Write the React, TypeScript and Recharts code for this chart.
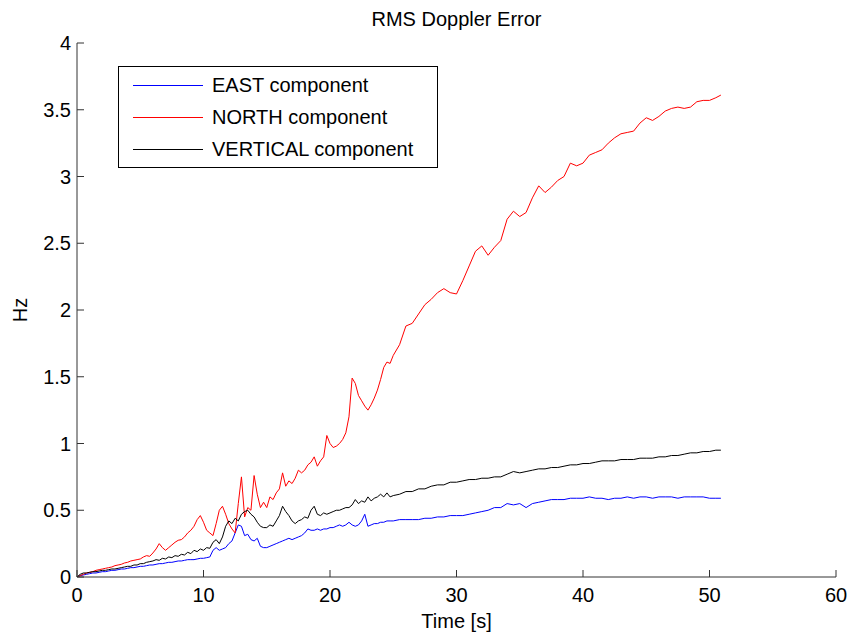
import { LineChart, Line, XAxis, YAxis, Legend } from "recharts"

// time axis [s]: 0.25 s steps to 25 s, then 0.5 s steps
const TIME = [
  0, 0.25, 0.5, 0.75, 1, 1.25, 1.5, 1.75, 2, 2.25, 2.5, 2.75, 3, 3.25, 3.5, 3.75,
  4, 4.25, 4.5, 4.75, 5, 5.25, 5.5, 5.75, 6, 6.25, 6.5, 6.75, 7, 7.25, 7.5, 7.75,
  8, 8.25, 8.5, 8.75, 9, 9.25, 9.5, 9.75, 10, 10.25, 10.5, 10.75, 11, 11.25, 11.5, 11.75,
  12, 12.25, 12.5, 12.75, 13, 13.25, 13.5, 13.75, 14, 14.25, 14.5, 14.75, 15, 15.25, 15.5, 15.75,
  16, 16.25, 16.5, 16.75, 17, 17.25, 17.5, 17.75, 18, 18.25, 18.5, 18.75, 19, 19.25, 19.5, 19.75,
  20, 20.25, 20.5, 20.75, 21, 21.25, 21.5, 21.75, 22, 22.25, 22.5, 22.75, 23, 23.25, 23.5, 23.75,
  24, 24.25, 24.5, 24.75, 25,
  25.5, 26, 26.5, 27, 27.5, 28, 28.5, 29, 29.5, 30,
  30.5, 31, 31.5, 32, 32.5, 33, 33.5, 34, 34.5, 35,
  35.5, 36, 36.5, 37, 37.5, 38, 38.5, 39, 39.5, 40,
  40.5, 41, 41.5, 42, 42.5, 43, 43.5, 44, 44.5, 45,
  45.5, 46, 46.5, 47, 47.5, 48, 48.5, 49, 49.5, 50,
  50.5, 50.9,
]

const EAST = [
  0, 0.01, 0.015, 0.02, 0.025, 0.03, 0.03, 0.035, 0.04, 0.04, 0.045, 0.05, 0.05, 0.055, 0.06, 0.06,
  0.065, 0.07, 0.07, 0.075, 0.08, 0.08, 0.085, 0.09, 0.09, 0.095, 0.1, 0.1, 0.105, 0.11, 0.11, 0.115,
  0.12, 0.12, 0.125, 0.13, 0.13, 0.13, 0.135, 0.14, 0.14, 0.145, 0.15, 0.2, 0.22, 0.2, 0.21, 0.22,
  0.25, 0.27, 0.33, 0.39, 0.38, 0.31, 0.32, 0.28, 0.27, 0.29, 0.23, 0.22, 0.22, 0.23, 0.24, 0.25,
  0.26, 0.27, 0.28, 0.29, 0.28, 0.29, 0.3, 0.31, 0.33, 0.36, 0.35, 0.35, 0.36, 0.35, 0.36, 0.36,
  0.37, 0.37, 0.38, 0.39, 0.38, 0.39, 0.41, 0.39, 0.38, 0.39, 0.42, 0.47, 0.38, 0.39, 0.4, 0.4,
  0.41, 0.41, 0.42, 0.42, 0.42,
  0.43, 0.43, 0.43, 0.43, 0.44, 0.44, 0.45, 0.45, 0.46, 0.46,
  0.46, 0.47, 0.48, 0.49, 0.5, 0.52, 0.52, 0.55, 0.54, 0.55,
  0.52, 0.55, 0.56, 0.57, 0.58, 0.58, 0.58, 0.59, 0.59, 0.59,
  0.6, 0.59, 0.59, 0.58, 0.59, 0.59, 0.6, 0.59, 0.6, 0.6,
  0.59, 0.6, 0.6, 0.6, 0.59, 0.6, 0.6, 0.6, 0.6, 0.59,
  0.59, 0.59,
]

const NORTH = [
  0, 0.01, 0.02, 0.03, 0.035, 0.04, 0.05, 0.055, 0.06, 0.065, 0.07, 0.075, 0.085, 0.09, 0.095, 0.105,
  0.11, 0.12, 0.125, 0.13, 0.135, 0.15, 0.16, 0.155, 0.18, 0.21, 0.25, 0.22, 0.2, 0.22, 0.24, 0.26,
  0.275, 0.28, 0.3, 0.33, 0.35, 0.38, 0.43, 0.46, 0.41, 0.35, 0.33, 0.31, 0.4, 0.5, 0.53, 0.47,
  0.4, 0.36, 0.33, 0.55, 0.75, 0.45, 0.52, 0.5, 0.76, 0.62, 0.52, 0.56, 0.52, 0.6, 0.58, 0.63,
  0.66, 0.78, 0.68, 0.72, 0.7, 0.74, 0.8, 0.78, 0.8, 0.84, 0.86, 0.9, 0.83, 0.87, 0.9, 1.06,
  1.0, 0.97, 0.98, 1.0, 1.03, 1.08, 1.2, 1.49, 1.45, 1.36, 1.32, 1.28, 1.25, 1.29, 1.34, 1.4,
  1.48, 1.57, 1.61, 1.6, 1.66,
  1.74, 1.88, 1.9, 1.97, 2.04, 2.08, 2.13, 2.16, 2.13, 2.12,
  2.22, 2.33, 2.44, 2.48, 2.41, 2.47, 2.52, 2.68, 2.74, 2.7,
  2.73, 2.84, 2.93, 2.88, 2.92, 2.97, 3.0, 3.1, 3.08, 3.1,
  3.16, 3.18, 3.2, 3.25, 3.29, 3.32, 3.33, 3.34, 3.4, 3.44,
  3.42, 3.45, 3.49, 3.51, 3.52, 3.51, 3.52, 3.56, 3.57, 3.57,
  3.59, 3.61,
]

const VERTICAL = [
  0, 0.02, 0.03, 0.03, 0.035, 0.04, 0.04, 0.045, 0.05, 0.05, 0.055, 0.06, 0.06, 0.065, 0.07, 0.075,
  0.08, 0.08, 0.09, 0.09, 0.1, 0.1, 0.11, 0.115, 0.12, 0.13, 0.125, 0.14, 0.135, 0.15, 0.145, 0.16,
  0.155, 0.17, 0.165, 0.185, 0.175, 0.2, 0.19, 0.21, 0.2, 0.22, 0.215, 0.26, 0.28, 0.25, 0.3, 0.38,
  0.42, 0.4, 0.44, 0.42, 0.47, 0.49, 0.5, 0.47, 0.45, 0.41, 0.38, 0.37, 0.37, 0.39, 0.38, 0.42,
  0.46, 0.53, 0.49, 0.46, 0.42, 0.4, 0.42, 0.43, 0.45, 0.44, 0.5, 0.53, 0.47, 0.46, 0.48, 0.47,
  0.48, 0.49, 0.5, 0.5, 0.51, 0.52, 0.52, 0.54, 0.58, 0.55, 0.57, 0.56, 0.6, 0.57, 0.59, 0.6,
  0.62, 0.6, 0.63, 0.6, 0.61,
  0.62, 0.64, 0.64, 0.66, 0.66, 0.68, 0.69, 0.69, 0.71, 0.71,
  0.72, 0.73, 0.73, 0.74, 0.74, 0.75, 0.75, 0.77, 0.79, 0.78,
  0.79, 0.8, 0.81, 0.81, 0.82, 0.82, 0.83, 0.84, 0.84, 0.85,
  0.85, 0.86, 0.87, 0.87, 0.87, 0.88, 0.88, 0.88, 0.89, 0.89,
  0.89, 0.9, 0.9, 0.91, 0.91, 0.92, 0.93, 0.93, 0.94, 0.94,
  0.95, 0.95,
]

const X_TICKS = [0, 10, 20, 30, 40, 50, 60]
const Y_TICKS = [0, 0.5, 1, 1.5, 2, 2.5, 3, 3.5, 4]

// the vertical series is plotted on the top/right axes (same domains) so those frame axes are in use
const SERIES = [
  { key: "east", name: "EAST component", color: "#0000ff", xId: "bottom", yId: "left" },
  { key: "north", name: "NORTH component", color: "#ff0000", xId: "bottom", yId: "left" },
  { key: "vertical", name: "VERTICAL component", color: "#000000", xId: "top", yId: "right" },
]

const data = TIME.map((t, i) => ({
  t,
  east: EAST[i],
  north: NORTH[i],
  vertical: VERTICAL[i],
}))

const FRAME = "#333333"
const FONT = '"Liberation Sans", Arial, Helvetica, sans-serif'
const TICK_LEN = 7

// matlab-style ticks: short mark pointing into the plot, label outside
function BottomTick(props: any) {
  const { x, y, payload } = props
  return (
    <g>
      <line x1={x} x2={x} y1={y} y2={y - TICK_LEN} stroke={FRAME} />
      <text x={x} y={y + 11} dy="0.71em" textAnchor="middle" fill="#000" fontSize={20}>
        {payload.value}
      </text>
    </g>
  )
}

function TopTick(props: any) {
  const { x, y } = props
  return <line x1={x} x2={x} y1={y} y2={y + TICK_LEN} stroke={FRAME} />
}

function LeftTick(props: any) {
  const { x, y, payload } = props
  return (
    <g>
      <line x1={x} x2={x + TICK_LEN} y1={y} y2={y} stroke={FRAME} />
      <text x={x - 6} y={y} dy="0.355em" textAnchor="end" fill="#000" fontSize={20}>
        {payload.value}
      </text>
    </g>
  )
}

function RightTick(props: any) {
  const { x, y } = props
  return <line x1={x} x2={x - TICK_LEN} y1={y} y2={y} stroke={FRAME} />
}

function LegendBox() {
  return (
    <div
      style={{
        width: 320,
        height: 102,
        border: "1px solid #000",
        background: "#fff",
        boxSizing: "border-box",
        paddingTop: 2,
      }}
    >
      {SERIES.map((s) => (
        <div key={s.key} style={{ display: "flex", alignItems: "center", height: 32 }}>
          <svg width={84} height={32} style={{ flex: "none" }}>
            <line x1={14} x2={84} y1={16.5} y2={16.5} stroke={s.color} strokeWidth={1} />
          </svg>
          <span style={{ marginLeft: 9, fontSize: 20, color: "#000", lineHeight: "32px" }}>{s.name}</span>
        </div>
      ))}
    </div>
  )
}

export default function App() {
  return (
    <div style={{ position: "absolute", left: 0, top: 0, width: 853, height: 639, background: "#fff", fontFamily: FONT }}>
      <div
        style={{
          position: "absolute",
          left: 77,
          top: 8,
          width: 759,
          textAlign: "center",
          fontSize: 20,
          color: "#000",
          zIndex: 2,
        }}
      >
        RMS Doppler Error
      </div>
      <LineChart width={853} height={639} data={data} margin={{ top: 43, right: 17, bottom: 0, left: 0 }}>
        <XAxis
          xAxisId="bottom"
          dataKey="t"
          type="number"
          domain={[0, 60]}
          allowDataOverflow
          ticks={X_TICKS}
          interval={0}
          height={62}
          stroke={FRAME}
          tickLine={false}
          tickSize={0}
          tickMargin={0}
          tick={BottomTick}
          label={{ value: "Time [s]", position: "insideBottom", offset: 11, fill: "#000", fontSize: 20 }}
        />
        <XAxis
          xAxisId="top"
          orientation="top"
          dataKey="t"
          type="number"
          domain={[0, 60]}
          allowDataOverflow
          ticks={X_TICKS}
          interval={0}
          height={0}
          stroke={FRAME}
          tickLine={false}
          tickSize={0}
          tickMargin={0}
          tick={TopTick}
        />
        <YAxis
          yAxisId="left"
          type="number"
          domain={[0, 4]}
          allowDataOverflow
          ticks={Y_TICKS}
          interval={0}
          width={77}
          stroke={FRAME}
          tickLine={false}
          tickSize={0}
          tickMargin={0}
          tick={LeftTick}
          label={{ value: "Hz", angle: -90, position: "insideLeft", offset: 20, fill: "#000", fontSize: 20, style: { textAnchor: "middle" } }}
        />
        <YAxis
          yAxisId="right"
          orientation="right"
          type="number"
          domain={[0, 4]}
          allowDataOverflow
          ticks={Y_TICKS}
          interval={0}
          width={0}
          stroke={FRAME}
          tickLine={false}
          tickSize={0}
          tickMargin={0}
          tick={RightTick}
        />
        <Legend
          layout="horizontal"
          align="center"
          verticalAlign="middle"
          content={() => <LegendBox />}
          wrapperStyle={{ left: 118, top: 66, width: 320, height: 102 }}
        />
        {SERIES.map((s) => (
          <Line
            key={s.key}
            xAxisId={s.xId}
            yAxisId={s.yId}
            dataKey={s.key}
            name={s.name}
            type="linear"
            stroke={s.color}
            strokeWidth={1}
            dot={false}
            activeDot={false}
            isAnimationActive={false}
          />
        ))}
      </LineChart>
    </div>
  )
}
